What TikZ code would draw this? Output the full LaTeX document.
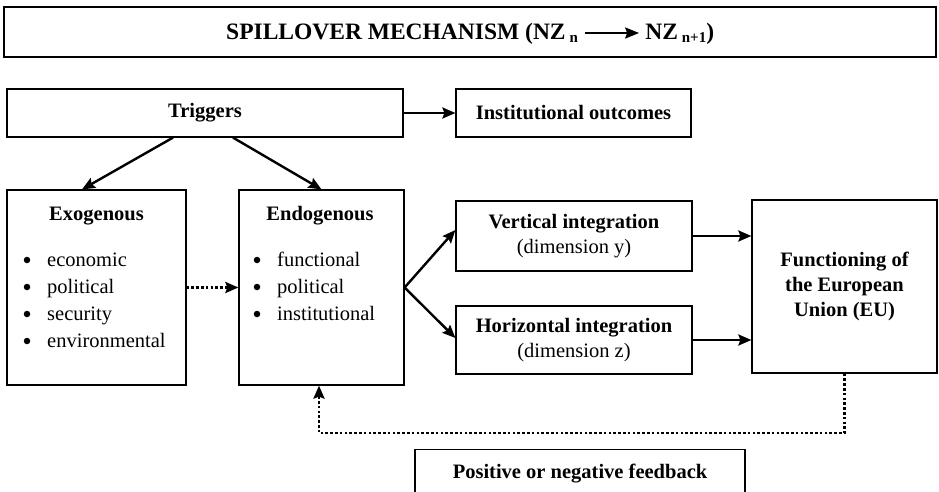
\documentclass[tikz,border=0pt]{standalone}
\usepackage{fontspec}
\setmainfont{Liberation Serif}
\usetikzlibrary{arrows.meta,calc}
\newcommand\myfs{\fontsize{20.5}{26}\selectfont}
\newcommand\ttlfs{\fontsize{23.5}{28}\selectfont}
\begin{document}
\begin{tikzpicture}[x=1pt,y=-1pt,
  box/.style={draw, line width=1.2pt, inner sep=0pt, align=center, font=\myfs\bfseries},
  txt/.style={inner sep=0pt, font=\myfs},
  btxt/.style={inner sep=0pt, font=\myfs\bfseries},
  ttl/.style={inner sep=0pt, font=\ttlfs\bfseries},
  bul/.style={circle, fill, inner sep=0pt, minimum size=6.5pt},
  arr/.style={line width=2.4pt, -{Stealth[length=13pt,width=11pt,inset=2pt]}},
  dotline/.style={line width=2.6pt, dash pattern=on 2.6pt off 2.2pt},
  dotarr/.style={dotline, -{Stealth[length=13pt,width=11pt,inset=2pt]}}]
\clip (0,0) rectangle (939,492);
\fill[white] (0,0) rectangle (939,492);

% title
\node[box, minimum width=932pt, minimum height=50pt] (title) at (470,32) {};
\node[ttl, anchor=base west] (t1) at (226,40) {SPILLOVER MECHANISM (NZ\,\raisebox{-3pt}{\fontsize{15}{15}\selectfont n}};
\node[ttl, anchor=base west] (t2) at ($(t1.base east)+(67,0)$) {NZ\,\raisebox{-3pt}{\fontsize{15}{15}\selectfont n+1})};
\draw[line width=2.2pt, -{Stealth[length=14pt,width=11pt,inset=2pt]}] ($(t1.base east)+(7,-7)$) -- ($(t2.base west)+(-6,-7)$);

% boxes
\node[box, minimum width=396pt, minimum height=48pt] (trig) at (205,113) {Triggers};
\node[box, minimum width=235pt, minimum height=48pt] (inst) at (573.5,113) {Institutional outcomes};
\node[box, minimum width=179pt, minimum height=195pt] (exo) at (96.5,287.5) {};
\node[box, minimum width=165pt, minimum height=195pt] (endo) at (321.5,287.5) {};
\node[box, minimum width=236pt, minimum height=70pt] (vert) at (574,236) {Vertical integration\\[-1pt]{\mdseries (dimension y)}};
\node[box, minimum width=236pt, minimum height=68pt] (horiz) at (574,340) {Horizontal integration\\[-1pt]{\mdseries (dimension z)}};
\node[box, minimum width=185pt, minimum height=173pt, font=\fontsize{20.5}{25}\selectfont\bfseries] (func) at (844.5,286.5) {Functioning of\\the European\\Union (EU)};
\node[box, minimum width=330pt, minimum height=70pt, anchor=north] (fbox) at (580,449) {};
\node[btxt, anchor=base] (fbtext) at (580,478) {Positive or negative feedback};

% exogenous contents
\node[btxt, anchor=base] (exot) at (96.5,220) {Exogenous};
\node[bul] (eb1) at (27,260) {};
\node[bul] (eb2) at (27,287) {};
\node[bul] (eb3) at (27,314) {};
\node[bul] (eb4) at (27,341) {};
\node[txt, anchor=base west] (et1) at (47,266) {economic};
\node[txt, anchor=base west] (et2) at (47,293) {political};
\node[txt, anchor=base west] (et3) at (47,320) {security};
\node[txt, anchor=base west] (et4) at (47,347) {environmental};

% endogenous contents
\node[btxt, anchor=base] (endot) at (320,220) {Endogenous};
\node[bul] (nb1) at (257,260) {};
\node[bul] (nb2) at (257,287) {};
\node[bul] (nb3) at (257,314) {};
\node[txt, anchor=base west] (nt1) at (277,266) {functional};
\node[txt, anchor=base west] (nt2) at (277,293) {political};
\node[txt, anchor=base west] (nt3) at (277,320) {institutional};

% arrows
\draw[arr] (trig.east) -- (inst.west);
\draw[arr] ([xshift=-32pt]trig.south) -- ([xshift=-14.5pt]exo.north);
\draw[arr] ([xshift=28pt]trig.south) -- (endo.north);
\draw[dotarr] (exo.east) -- (endo.west);
\draw[arr] (endo.east) -- ([yshift=6pt]vert.west);
\draw[arr] (endo.east) -- ([yshift=2pt]horiz.west);
\draw[arr] (vert.east) -- (vert.east -| func.west);
\draw[arr] (horiz.east) -- (horiz.east -| func.west);
\coordinate (fb) at (319,433);
\draw[dotarr] (func.south) |- (fb) -- (fb |- endo.south);
\end{tikzpicture}
\end{document}
